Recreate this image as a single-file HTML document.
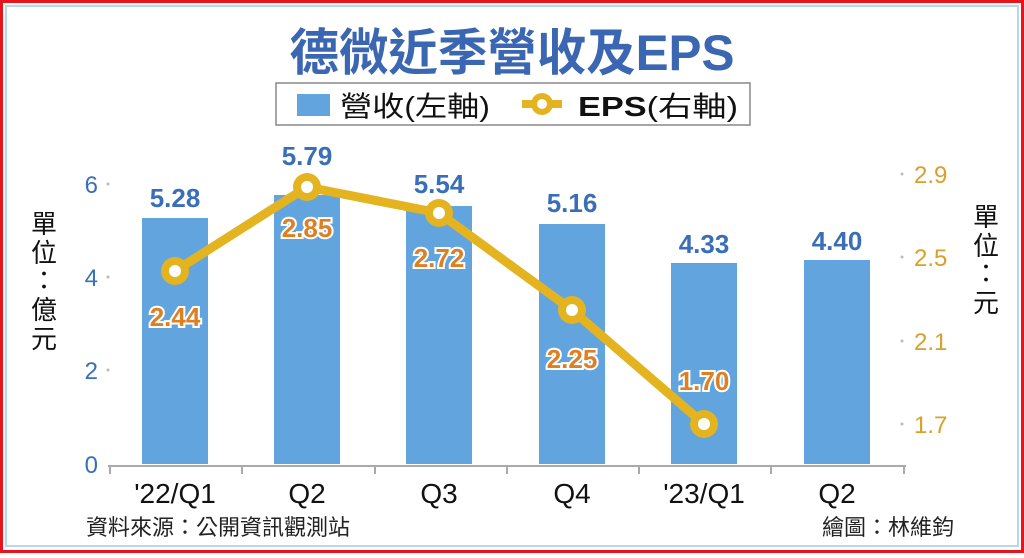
<!DOCTYPE html><html><head><meta charset="utf-8"><style>
body{margin:0;width:1024px;height:553px;overflow:hidden;background:#fff}
text{font-family:"Liberation Sans","Noto Sans CJK TC",sans-serif}
</style></head><body>
<svg width="1024" height="553" xmlns="http://www.w3.org/2000/svg">
<rect x="1.5" y="1.5" width="1021" height="550" fill="#fff" stroke="#e8141c" stroke-width="3"/>
<rect x="6" y="6" width="1012" height="540" fill="none" stroke="#b9d6f0" stroke-width="2"/>
<text x="512" y="70" text-anchor="middle" font-size="50" font-weight="bold" fill="#3a66b2" textLength="445" lengthAdjust="spacingAndGlyphs">德微近季營收及EPS</text>
<rect x="276" y="83" width="474" height="42" fill="#fff" stroke="#888" stroke-width="1.5"/>
<rect x="297" y="94" width="33" height="22" fill="#62a4de"/>
<text x="340" y="116" font-size="28" fill="#111" textLength="150" lengthAdjust="spacingAndGlyphs">營收(左軸)</text>
<line x1="522" y1="104" x2="562" y2="104" stroke="#e4b420" stroke-width="8"/>
<circle cx="542" cy="104" r="11" fill="#e4b420"/><circle cx="542" cy="104" r="5" fill="#fff"/>
<text x="578" y="116" font-size="28" fill="#111" textLength="160" lengthAdjust="spacingAndGlyphs"><tspan font-weight="bold">EPS</tspan>(右軸)</text>
<g fill="#62a4de">
<rect x="142" y="218" width="66" height="246"/><rect x="274" y="195" width="66" height="269"/>
<rect x="406" y="206" width="66" height="258"/><rect x="539" y="224" width="66" height="240"/>
<rect x="671" y="263" width="66" height="201"/><rect x="804" y="260" width="66" height="204"/>
</g>
<line x1="108" y1="466" x2="906" y2="466" stroke="#aaa" stroke-width="2"/>
<g stroke="#aaa" stroke-width="2"><line x1="110" y1="466" x2="110" y2="474"/><line x1="242" y1="466" x2="242" y2="474"/><line x1="375" y1="466" x2="375" y2="474"/><line x1="507" y1="466" x2="507" y2="474"/><line x1="639" y1="466" x2="639" y2="474"/><line x1="771" y1="466" x2="771" y2="474"/><line x1="904" y1="466" x2="904" y2="474"/></g>
<g font-size="24" fill="#3a6fb8" text-anchor="end"><text x="98" y="193">6</text><text x="98" y="286">4</text><text x="98" y="379">2</text><text x="98" y="473">0</text></g>
<g fill="#bbb"><circle cx="108" cy="184" r="1.5"/><circle cx="108" cy="277" r="1.5"/><circle cx="108" cy="370" r="1.5"/><circle cx="902" cy="174" r="1.5"/><circle cx="902" cy="257" r="1.5"/><circle cx="902" cy="341" r="1.5"/><circle cx="902" cy="424" r="1.5"/></g>
<g font-size="24" fill="#d9a02a"><text x="914" y="183">2.9</text><text x="914" y="266">2.5</text><text x="914" y="350">2.1</text><text x="914" y="433">1.7</text></g>
<g font-size="26" fill="#3a6fb8" font-weight="bold" text-anchor="middle"><text x="175" y="207">5.28</text><text x="307" y="165">5.79</text><text x="439" y="193">5.54</text><text x="572" y="212">5.16</text><text x="704" y="253">4.33</text><text x="837" y="250">4.40</text></g>
<polyline points="175,271 307,187 439,213 572,310 704,424" fill="none" stroke="#e4b420" stroke-width="9" stroke-linejoin="round"/>
<g fill="#e4b420"><circle cx="175" cy="271" r="14"/><circle cx="307" cy="187" r="14"/><circle cx="439" cy="213" r="14"/><circle cx="572" cy="310" r="14"/><circle cx="704" cy="424" r="14"/></g>
<g fill="#fff"><circle cx="175" cy="271" r="6"/><circle cx="307" cy="187" r="6"/><circle cx="439" cy="213" r="6"/><circle cx="572" cy="310" r="6"/><circle cx="704" cy="424" r="6"/></g>
<g font-size="26" font-weight="bold" fill="#de7f22" stroke="#fff" stroke-width="4" paint-order="stroke" text-anchor="middle"><text x="175" y="326">2.44</text><text x="307" y="237">2.85</text><text x="439" y="267">2.72</text><text x="572" y="368">2.25</text><text x="704" y="390">1.70</text></g>
<g font-size="28" fill="#111" text-anchor="middle"><text x="175" y="503">'22/Q1</text><text x="307" y="503">Q2</text><text x="439" y="503">Q3</text><text x="572" y="503">Q4</text><text x="704" y="503">'23/Q1</text><text x="837" y="503">Q2</text></g>
<g font-size="26" fill="#111" text-anchor="middle"><text x="44" y="233">單</text><text x="44" y="262">位</text><text x="44" y="290">：</text><text x="44" y="319">億</text><text x="44" y="348">元</text>
<text x="986" y="226">單</text><text x="986" y="255">位</text><text x="986" y="283">：</text><text x="986" y="312">元</text></g>
<text x="86" y="535" font-size="22" fill="#222">資料來源：公開資訊觀測站</text>
<text x="954" y="535" font-size="22" fill="#222" text-anchor="end">繪圖：林維鈞</text>
</svg></body></html>
